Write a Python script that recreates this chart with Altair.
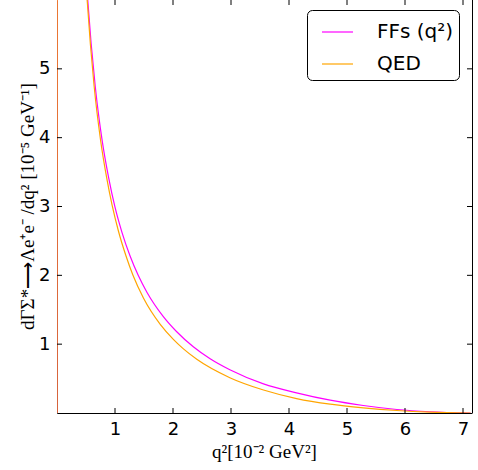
import altair as alt
import pandas as pd

# ---- data ----
ffs_q2 = [0.0001, 0.02, 0.45, 0.53, 0.66, 0.78, 0.89, 1.0, 1.12, 1.26, 1.40, 1.55,
          1.83, 2.06, 2.35, 2.64, 2.98, 3.56, 4.13, 4.71, 5.28, 5.86, 6.43, 7.13]
ffs_val = [0.0, 60.0, 7.1, 6.0, 4.74, 3.95, 3.42, 2.99, 2.625, 2.28, 2.0, 1.755,
           1.404, 1.184, 0.962, 0.788, 0.628, 0.423, 0.293, 0.186, 0.109, 0.051, 0.018, 0.0]

qed_q2 = [0.0001, 0.02, 0.45, 0.52, 0.64, 0.75, 0.86, 0.95, 1.06, 1.19, 1.31, 1.49,
          1.78, 2.01, 2.18, 2.41, 2.98, 3.56, 4.13, 4.71, 5.28, 5.86, 6.43, 7.13]
qed_val = [0.0, 58.0, 7.0, 6.0, 4.75, 3.97, 3.40, 3.02, 2.64, 2.28, 2.0, 1.67,
           1.287, 1.065, 0.931, 0.780, 0.513, 0.334, 0.210, 0.128, 0.075, 0.036, 0.012, 0.0]

series_names = ["FFs (q²)", "QED"]
series_colors = ["#ff00ff", "#ffa500"]
x_ticks = [1, 2, 3, 4, 5, 6, 7]
y_ticks = [1, 2, 3, 4, 5]
x_title = "q²[10⁻² GeV²]"
y_title = "dΓΣ*⟶Λe⁺e⁻ /dq² [10⁻⁵ GeV⁻¹]"

df = pd.concat([
    pd.DataFrame({"q2": ffs_q2, "val": ffs_val, "series": series_names[0]}),
    pd.DataFrame({"q2": qed_q2, "val": qed_val, "series": series_names[1]}),
], ignore_index=True)
xt_df = pd.DataFrame({"t": x_ticks})
yt_df = pd.DataFrame({"t": y_ticks})

W, H = 415, 413
TL = 5  # inward tick length (px)
xs = alt.Scale(domain=[0, 7.155], nice=False, zero=False)
ys = alt.Scale(domain=[0, 6], nice=False, zero=False)

x_axis = alt.Axis(
    values=x_ticks, format="d", ticks=False, tickSize=0, labelPadding=7, labelFontSize=18,
    labelFont="DejaVu Sans", labelFontWeight="normal", labelColor="black",
    domain=True, domainColor="black",
    title=x_title, titleFont="Liberation Serif", titleFontSize=19,
    titleFontWeight="normal", titleColor="black",
    titleX=207, titleY=38, titleBaseline="middle", titleAlign="center")
y_axis = alt.Axis(
    values=y_ticks, format="d", ticks=False, tickSize=0, labelPadding=7, labelFontSize=18,
    labelFont="DejaVu Sans", labelFontWeight="normal", labelColor="black",
    domain=True, domainColor="black",
    title=y_title, titleFont="Liberation Serif", titleFontSize=19,
    titleFontWeight="normal", titleColor="black", titleAngle=270,
    titleX=-30, titleY=206, titleBaseline="middle", titleAlign="center")

lines = alt.Chart(df).mark_line(clip=True, strokeWidth=1.2, interpolate="monotone").encode(
    x=alt.X("q2:Q", scale=xs, axis=x_axis, title=x_title),
    y=alt.Y("val:Q", scale=ys, axis=y_axis, title=y_title),
    color=alt.Color("series:N", scale=alt.Scale(domain=series_names, range=series_colors),
                    legend=alt.Legend(
                        title=None, orient="none", legendX=250, legendY=10,
                        symbolType="stroke", symbolSize=961, symbolStrokeWidth=1.2,
                        labelFont="DejaVu Sans", labelFontSize=20, labelColor="black",
                        labelOffset=23, padding=5.5, rowPadding=5, symbolOffset=8.5,
                        strokeColor="black", cornerRadius=5, fillColor="white",
                        labelLimit=300)),
)

rule = dict(color="black", strokeWidth=1)
xt_bottom = alt.Chart(xt_df).mark_rule(**rule).encode(
    x=alt.X("t:Q", scale=xs, axis=x_axis, title=x_title), y=alt.value(H), y2=alt.value(H - TL))
xt_top = alt.Chart(xt_df).mark_rule(**rule).encode(
    x=alt.X("t:Q", scale=xs, axis=x_axis, title=x_title), y=alt.value(0), y2=alt.value(TL))
yt_left = alt.Chart(yt_df).mark_rule(**rule).encode(
    y=alt.Y("t:Q", scale=ys, axis=y_axis, title=y_title), x=alt.value(0), x2=alt.value(TL))
yt_right = alt.Chart(yt_df).mark_rule(**rule).encode(
    y=alt.Y("t:Q", scale=ys, axis=y_axis, title=y_title), x=alt.value(W), x2=alt.value(W - TL))
right_spine = alt.Chart(xt_df).mark_rule(**rule).encode(
    x=alt.value(W + 0.5), y=alt.value(0), y2=alt.value(H))

chart = alt.layer(lines, xt_bottom, xt_top, yt_left, yt_right, right_spine).properties(
    width=W, height=H, autosize="none",
    padding={"left": 57, "top": 0, "right": 6, "bottom": 57},
).configure_view(stroke=None).configure_axis(grid=False)

chart.save("out.html", embed_options={"renderer": "svg", "actions": False})
